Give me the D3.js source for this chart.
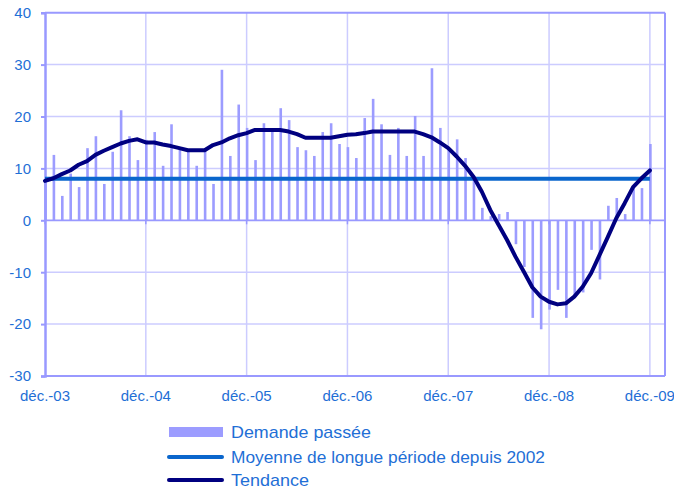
<!DOCTYPE html>
<html lang="fr">
<head>
<meta charset="UTF-8">
<title>Demande passée</title>
<script src="https://d3js.org/d3.v7.min.js"></script>
<style>
  body { margin: 0; background: #fff; }
  text { font-family: Arial, "Liberation Sans", sans-serif; }
</style>
</head>
<body>
<script>
// monthly values, déc.-03 .. déc.-09
const demande = [7.8, 12.6, 4.7, 9.0, 6.4, 13.9, 16.2, 7.0, 13.2, 21.2, 16.2, 11.6, 15.5, 17.0, 10.5, 18.5, 13.8, 13.2, 10.5, 13.5,
  7.0, 29.0, 12.4, 22.3, 17.8, 11.6, 18.7, 17.2, 21.6, 19.3, 14.1, 13.5, 12.4, 17.0, 18.7, 14.7, 14.1, 12.0,
  19.7, 23.4, 18.5, 12.6, 17.8, 12.4, 20.1, 12.4, 29.3, 17.8, 14.0, 15.6, 12.0, 8.5, 2.4, 0.8, 1.2, 1.6,
  -4.6, -9.0, -18.8, -21.0, -17.2, -13.4, -18.8, -14.5, -13.9, -5.7, -11.4, 2.8, 4.3, 1.2, 6.5, 6.2, 14.7];

const tendance = [7.6, 8.1, 8.9, 9.6, 10.7, 11.4, 12.6, 13.4, 14.1, 14.8, 15.3, 15.6, 15.0, 15.0, 14.6, 14.3, 13.9, 13.5, 13.5, 13.5,
  14.5, 15.0, 15.8, 16.4, 16.8, 17.4, 17.4, 17.4, 17.4, 17.1, 16.6, 15.9, 15.9, 15.9, 15.9, 16.2, 16.5, 16.6,
  16.8, 17.1, 17.1, 17.1, 17.1, 17.1, 17.1, 16.6, 16.0, 15.0, 13.9, 12.3, 10.5, 8.4, 5.5, 2.0, -0.9, -3.8,
  -7.0, -9.9, -12.9, -14.7, -15.7, -16.2, -16.0, -14.7, -12.8, -10.2, -6.7, -3.2, 0.4, 3.3, 6.4, 8.1, 9.6];

const moyenne = 8; // moyenne de longue période depuis 2002

const yearLabels = ["déc.-03", "déc.-04", "déc.-05", "déc.-06", "déc.-07", "déc.-08", "déc.-09"];
const yTicks = [-30, -20, -10, 0, 10, 20, 30, 40];
const legendLabels = ["Demande passée", "Moyenne de longue période depuis 2002", "Tendance"];

const W = 674, H = 491;
const barColor = "#9c9cff", meanColor = "#0a66cc", trendColor = "#000080";
const textColor = "#1f6fd6", gridColor = "#ccccff", axisColor = "#9999ff";

const svg = d3.select("body").append("svg").attr("width", W).attr("height", H);

const x = d3.scaleLinear().domain([0, 73.8]).range([45, 665]);
const y = d3.scaleLinear().domain([-30, 40]).range([376, 12.7]);

// grid
svg.append("g").selectAll("line").data(yTicks.filter(d => d !== 0 && d !== -30 && d !== 40))
  .enter().append("line")
  .attr("x1", x(0)).attr("x2", x.range()[1])
  .attr("y1", d => y(d)).attr("y2", d => y(d))
  .attr("stroke", gridColor).attr("stroke-width", 1.5);

svg.append("g").selectAll("line").data(yearLabels.slice(1))
  .enter().append("line")
  .attr("x1", (d, i) => x((i + 1) * 12)).attr("x2", (d, i) => x((i + 1) * 12))
  .attr("y1", y(40)).attr("y2", y(-30))
  .attr("stroke", gridColor).attr("stroke-width", 1.5);

// frame
svg.append("line").attr("x1", x(0)).attr("x2", x.range()[1]).attr("y1", y(40)).attr("y2", y(40))
  .attr("stroke", axisColor).attr("stroke-width", 2);
svg.append("line").attr("x1", x.range()[1]).attr("x2", x.range()[1]).attr("y1", y(40)).attr("y2", y(-30))
  .attr("stroke", axisColor).attr("stroke-width", 2);
svg.append("line").attr("x1", x(0)).attr("x2", x.range()[1]).attr("y1", y(-30)).attr("y2", y(-30))
  .attr("stroke", axisColor).attr("stroke-width", 2);

// bars
const bw = 2.6;
svg.append("g").selectAll("rect").data(demande)
  .enter().append("rect")
  .attr("x", (d, i) => x(i) - bw / 2 + 0.5)
  .attr("width", bw)
  .attr("y", d => y(Math.max(0, d)))
  .attr("height", d => Math.abs(y(d) - y(0)))
  .attr("fill", barColor);

// y axis
const yAxis = svg.append("g").attr("transform", `translate(${x(0)},0)`)
  .call(d3.axisLeft(y).tickValues(yTicks).tickSize(4).tickPadding(10).tickFormat(d => String(d)));
yAxis.select(".domain").attr("stroke", axisColor).attr("stroke-width", 2.5);
yAxis.selectAll(".tick line").attr("stroke", axisColor).attr("stroke-width", 2);
yAxis.selectAll("text").attr("fill", textColor).attr("font-size", 15);

// zero line with year ticks
svg.append("line").attr("x1", x(0)).attr("x2", x.range()[1]).attr("y1", y(0)).attr("y2", y(0))
  .attr("stroke", axisColor).attr("stroke-width", 1.8);
svg.append("g").selectAll("line").data(yearLabels)
  .enter().append("line")
  .attr("x1", (d, i) => x(i * 12)).attr("x2", (d, i) => x(i * 12))
  .attr("y1", y(0)).attr("y2", y(0) + 4)
  .attr("stroke", axisColor).attr("stroke-width", 1.5);

// x labels
svg.append("g").selectAll("text").data(yearLabels)
  .enter().append("text")
  .attr("x", (d, i) => x(i * 12))
  .attr("y", 401)
  .attr("text-anchor", "middle")
  .attr("fill", textColor).attr("font-size", 15)
  .text(d => d);

// mean line
svg.append("line")
  .attr("x1", x(0)).attr("x2", x(demande.length - 1))
  .attr("y1", y(moyenne)).attr("y2", y(moyenne))
  .attr("stroke", meanColor).attr("stroke-width", 4);

// trend
const line = d3.line().x((d, i) => x(i)).y(d => y(d));
svg.append("path").datum(tendance)
  .attr("d", line)
  .attr("fill", "none")
  .attr("stroke", trendColor)
  .attr("stroke-width", 4)
  .attr("stroke-linejoin", "round")
  .attr("stroke-linecap", "round");

// legend
const lg = svg.append("g");
const rowY = [432, 457, 480];
const textW = [140, 314, 78];
lg.append("rect").attr("x", 169).attr("y", 427).attr("width", 54).attr("height", 10).attr("fill", barColor);
lg.append("line").attr("x1", 169).attr("x2", 222).attr("y1", rowY[1]).attr("y2", rowY[1])
  .attr("stroke", meanColor).attr("stroke-width", 4).attr("stroke-linecap", "round");
lg.append("line").attr("x1", 169).attr("x2", 222).attr("y1", rowY[2]).attr("y2", rowY[2])
  .attr("stroke", trendColor).attr("stroke-width", 4).attr("stroke-linecap", "round");
lg.selectAll("text").data(legendLabels)
  .enter().append("text")
  .attr("x", 231)
  .attr("y", (d, i) => rowY[i] + 6)
  .attr("fill", textColor).attr("font-size", 17)
  .attr("textLength", (d, i) => textW[i])
  .attr("lengthAdjust", "spacingAndGlyphs")
  .text(d => d);
</script>
</body>
</html>
